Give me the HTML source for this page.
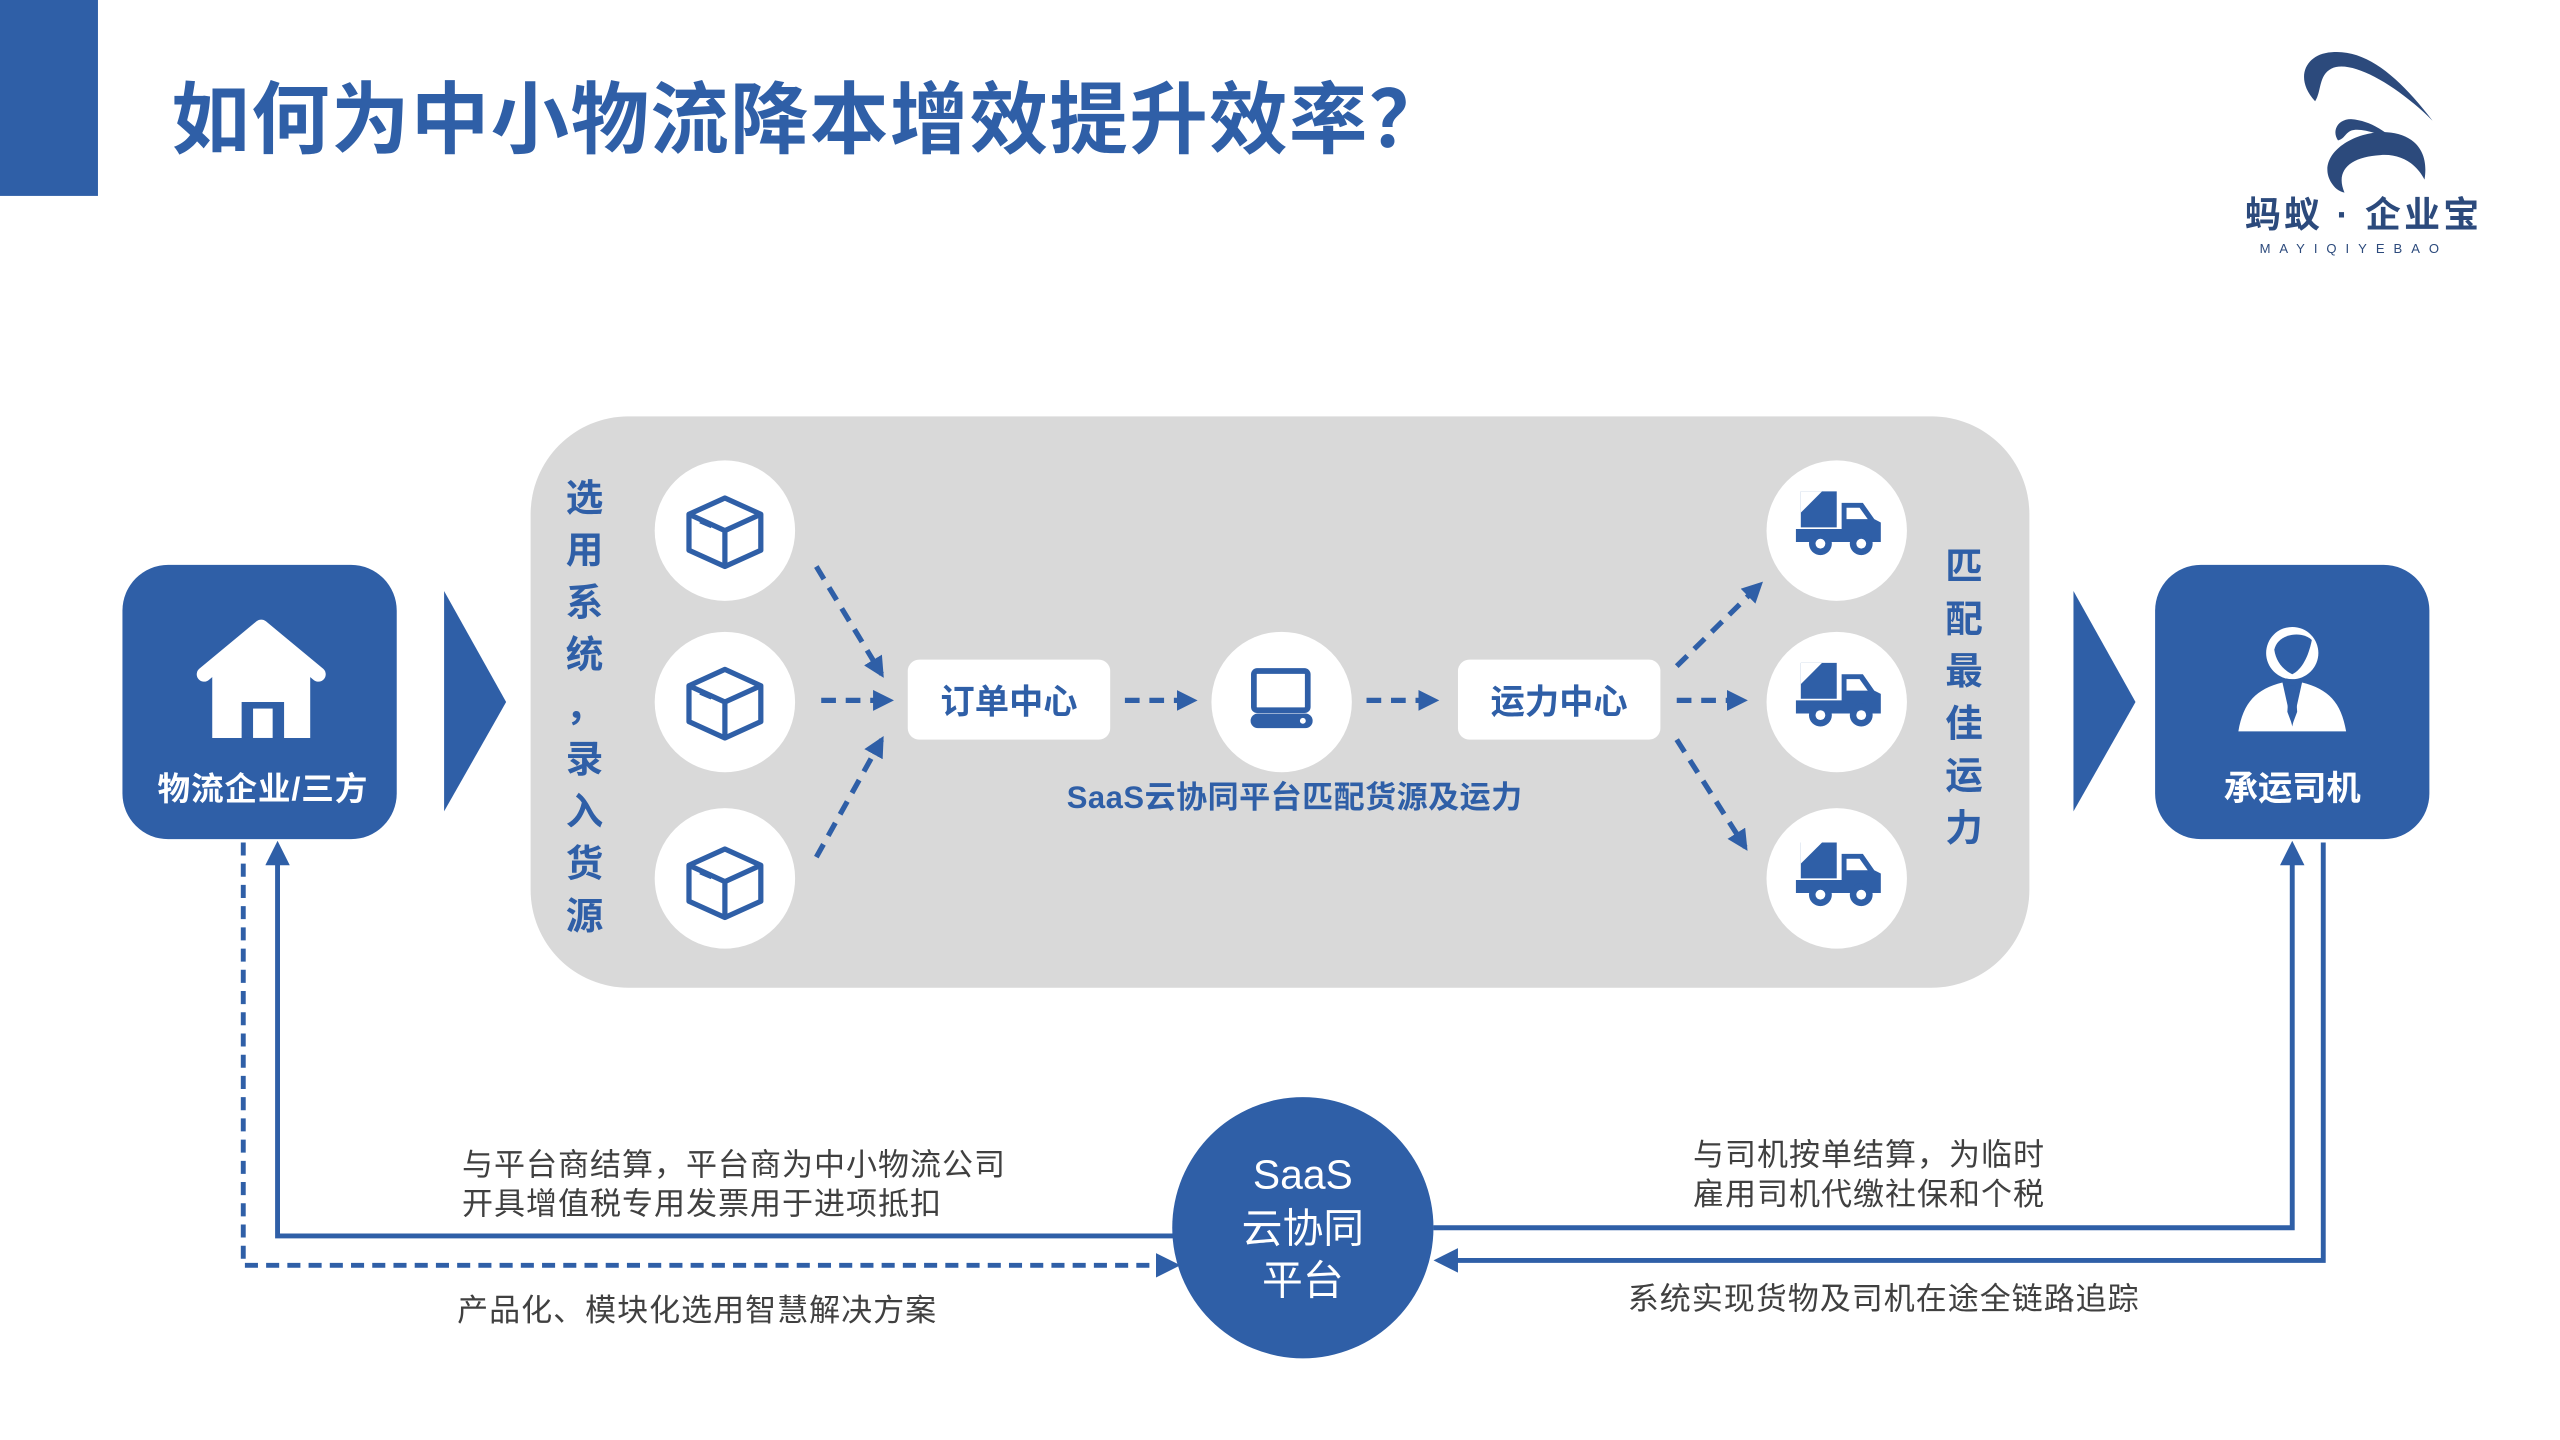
<!DOCTYPE html>
<html><head><meta charset="utf-8"><style>
html,body{margin:0;padding:0;background:#fff;width:2560px;height:1440px;overflow:hidden}
svg{display:block}
text{font-family:"Liberation Sans","Noto Sans CJK SC",sans-serif}
</style></head><body>
<svg width="2560" height="1440" viewBox="0 0 1568 882" xmlns="http://www.w3.org/2000/svg">
<defs>
<marker id="ah" viewBox="0 0 10 10" refX="8" refY="5" markerWidth="4" markerHeight="4" orient="auto"><path d="M0,0 L10,5 L0,10 z" fill="#2f5fa7"/></marker>
<marker id="ah2" viewBox="0 0 10 10" refX="8" refY="5" markerWidth="5" markerHeight="5" orient="auto"><path d="M0,0 L10,5 L0,10 z" fill="#2f5fa7"/></marker>
<g id="box"><g fill="none" stroke="#2f5fa7" stroke-width="3.2" stroke-linejoin="round"><path d="M-22,-10 L0,-20 L22,-10 L22,12 L0,22 L-22,12 Z"/><path d="M-22,-10 L0,0 L22,-10 M0,0 L0,22"/><path d="M-15,-6 L-8,-3"/></g></g>
<g id="truck" fill="#2f5fa7"><path d="M-24,-19 L-24,3 L-2,3 L-2,-19 Z"/><path d="M-24,-19 L-11,-19 L-24,-6Z" fill="#fff"/><path d="M1,-12 L14,-12 L21,-2 L25,0 L25,12 L-27,12 L-27,4 L1,4 Z"/><path d="M4,-9 L12,-9 L17,-2 L4,-2Z" fill="#fff"/><circle cx="-12" cy="13" r="7"/><circle cx="-12" cy="13" r="3" fill="#fff"/><circle cx="13" cy="13" r="7"/><circle cx="13" cy="13" r="3" fill="#fff"/></g>
</defs>
<rect x="0" y="0" width="60" height="120" fill="#2f5fa7"/>
<text x="105" y="90" font-size="48" font-weight="bold" fill="#2f5fa7" letter-spacing="0.9">如何为中小物流降本增效提升效率？</text>
<!-- logo -->
<g fill="#2c4a7c">
<path d="M1418,62 C1405,48 1412,33 1428,32 C1450,30 1470,48 1490,74 C1468,52 1440,36 1428,42 C1420,46 1422,56 1418,62Z"/>
<path d="M1432,86 C1428,80 1432,73 1440,73 C1452,74 1460,80 1470,88 C1458,82 1446,78 1440,80 C1436,82 1436,85 1432,86Z"/>
<path d="M1428,112 C1418,96 1440,80 1462,81 C1478,82 1488,92 1485,110 C1480,100 1470,94 1458,95 C1440,96 1430,104 1436,118 C1432,117 1430,115 1428,112Z"/>
</g>
<text x="1375" y="139" font-size="22" font-weight="bold" fill="#2c4a7c" letter-spacing="2">蚂蚁 · 企业宝</text>
<text x="1384" y="155" font-size="8" fill="#2c4a7c" letter-spacing="5.5">MAYIQIYEBAO</text>
<!-- gray panel -->
<rect x="325" y="255" width="918" height="350" rx="60" fill="#d9d9d9"/>
<!-- left box -->
<rect x="75" y="346" width="168" height="168" rx="28" fill="#2f5fa7"/>
<path d="M125,413 L160,384 L195,413" fill="none" stroke="#fff" stroke-width="9" stroke-linecap="round" stroke-linejoin="round"/>
<path d="M130,412 L160,388 L190,412 L190,452 L174,452 L174,430 L148,430 L148,452 L130,452 Z" fill="#fff"/>
<rect x="150" y="432" width="22" height="20" fill="#2f5fa7"/>
<rect x="155" y="434" width="12" height="18" fill="#fff"/>
<text x="161" y="490" font-size="20" font-weight="bold" fill="#fff" text-anchor="middle" letter-spacing="0.5">物流企业/三方</text>
<polygon points="272,362 310,430 272,497" fill="#2f5fa7"/>
<!-- right box -->
<rect x="1320" y="346" width="168" height="168" rx="28" fill="#2f5fa7"/>
<circle cx="1404" cy="400" r="16" fill="#fff"/>
<path d="M1393,398 C1395,388 1410,386 1416,392 C1414,402 1410,410 1404,413 C1398,410 1394,405 1393,398Z" fill="#2f5fa7"/>
<path d="M1371,448 C1374,430 1382,422 1398,418 L1404,445 L1410,418 C1426,422 1434,430 1437,448 Z" fill="#fff"/>
<path d="M1402,420 L1406,420 L1407,436 L1404,444 L1401,436Z" fill="#2f5fa7"/>
<text x="1404" y="490" font-size="21" font-weight="bold" fill="#fff" text-anchor="middle">承运司机</text>
<polygon points="1270,362 1308,430 1270,497" fill="#2f5fa7"/>
<!-- vertical texts -->
<g font-size="23" font-weight="bold" fill="#2f5fa7" text-anchor="middle">
<text x="358" y="313">选</text><text x="358" y="345">用</text><text x="358" y="377">系</text><text x="358" y="409">统</text><text x="358" y="441">，</text><text x="358" y="473">录</text><text x="358" y="505">入</text><text x="358" y="537">货</text><text x="358" y="569">源</text>
<text x="1203" y="355">匹</text><text x="1203" y="387">配</text><text x="1203" y="419">最</text><text x="1203" y="451">佳</text><text x="1203" y="483">运</text><text x="1203" y="515">力</text>
</g>
<!-- circles -->
<g fill="#fff">
<ellipse cx="444" cy="325" rx="43" ry="43"/><ellipse cx="444" cy="430" rx="43" ry="43"/><ellipse cx="444" cy="538" rx="43" ry="43"/>
<ellipse cx="785" cy="430" rx="43" ry="43"/>
<ellipse cx="1125" cy="325" rx="43" ry="43"/><ellipse cx="1125" cy="430" rx="43" ry="43"/><ellipse cx="1125" cy="538" rx="43" ry="43"/>
</g>
<use href="#box" x="444" y="325"/><use href="#box" x="444" y="430"/><use href="#box" x="444" y="540"/>
<use href="#truck" x="1127" y="320"/><use href="#truck" x="1127" y="425"/><use href="#truck" x="1127" y="535"/>
<rect x="768" y="411" width="33" height="24" rx="2" fill="none" stroke="#2f5fa7" stroke-width="3.5"/>
<rect x="766" y="437" width="38" height="9" rx="4.5" fill="#2f5fa7"/>
<circle cx="798" cy="441.5" r="1.8" fill="#fff"/>
<!-- center boxes -->
<rect x="556" y="404" width="124" height="49" rx="7" fill="#fff"/>
<text x="618" y="437" font-size="21" font-weight="bold" fill="#2f5fa7" text-anchor="middle">订单中心</text>
<rect x="893" y="404" width="124" height="49" rx="7" fill="#fff"/>
<text x="955" y="437" font-size="21" font-weight="bold" fill="#2f5fa7" text-anchor="middle">运力中心</text>
<text x="793" y="495" font-size="19" font-weight="bold" fill="#2f5fa7" text-anchor="middle" letter-spacing="0.3">SaaS云协同平台匹配货源及运力</text>
<!-- dashed arrows -->
<g stroke="#2f5fa7" stroke-width="3.2" stroke-dasharray="9,6" fill="none" marker-end="url(#ah)">
<line x1="500" y1="347" x2="540" y2="413"/>
<line x1="503" y1="429" x2="545" y2="429"/>
<line x1="500" y1="525" x2="540" y2="453"/>
<line x1="689" y1="429" x2="731" y2="429"/>
<line x1="837" y1="429" x2="879" y2="429"/>
<line x1="1027" y1="408" x2="1078" y2="358"/>
<line x1="1027" y1="429" x2="1068" y2="429"/>
<line x1="1027" y1="453" x2="1069" y2="519"/>
</g>
<!-- bottom connectors -->
<g stroke="#2f5fa7" stroke-width="3" fill="none">
<polyline points="720,757 170,757 170,518" marker-end="url(#ah2)"/>
<polyline points="149,516 149,775 720,775" stroke-dasharray="8,5" marker-end="url(#ah2)"/>
<polyline points="878,752 1404,752 1404,518" marker-end="url(#ah2)"/>
<polyline points="1423,516 1423,772 881,772" marker-end="url(#ah2)"/>
</g>
<circle cx="798" cy="752" r="80" fill="#2f5fa7"/>
<g font-size="25" fill="#fff" text-anchor="middle">
<text x="798" y="728">SaaS</text><text x="798" y="761">云协同</text><text x="798" y="793">平台</text>
</g>
<g font-size="19" fill="#404040" letter-spacing="0.6">
<text x="283" y="720">与平台商结算，平台商为中小物流公司</text>
<text x="283" y="744">开具增值税专用发票用于进项抵扣</text>
<text x="280" y="809">产品化、模块化选用智慧解决方案</text>
<text x="1037" y="714">与司机按单结算，为临时</text>
<text x="1037" y="738">雇用司机代缴社保和个税</text>
<text x="997" y="802">系统实现货物及司机在途全链路追踪</text>
</g>
</svg>
</body></html>
